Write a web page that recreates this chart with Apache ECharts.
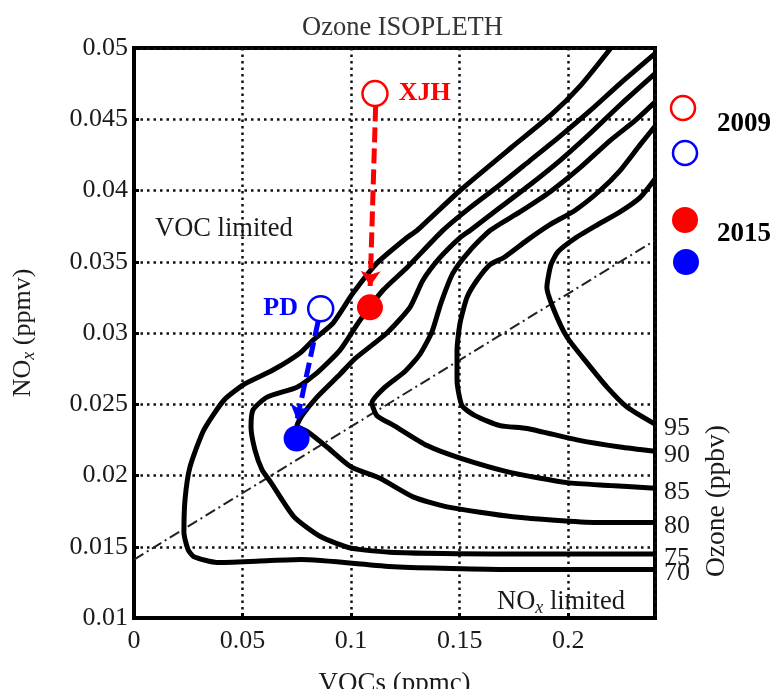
<!DOCTYPE html>
<html lang="en">
<head>
<meta charset="UTF-8">
<title>Ozone ISOPLETH</title>
<script src="https://cdn.jsdelivr.net/npm/echarts@6/dist/echarts.min.js"></script>
<style>
  html, body { margin: 0; padding: 0; background: #fff; }
  #main { width: 776px; height: 689px; }
</style>
</head>
<body>
<div id="main"></div>
<script>
// ozone levels (ppbv); every contour goes from its upper end round to the right border
var levels = [70, 75, 80, 85, 90, 95];

var c70 = [[0.2197,0.0500],[0.2059,0.0474],[0.1921,0.0453],[0.1737,0.0430],[0.1502,0.0400],[0.1304,0.0372],[0.1258,0.0367],
  [0.1119,0.0349],[0.1009,0.0328],[0.0917,0.0307],[0.0825,0.0295],[0.0765,0.0286],[0.0640,0.0274],[0.0507,0.0264],
  [0.0415,0.0253],[0.0322,0.0232],[0.0258,0.0206],[0.0235,0.0183],[0.0230,0.0160],[0.0249,0.0148],[0.0276,0.0143],
  [0.0382,0.0139],[0.0580,0.0140],[0.0769,0.0141],[0.1198,0.0136],[0.1732,0.0134],[0.2400,0.0134]];
var c75 = [[0.2400,0.0496],[0.2239,0.0475],[0.2101,0.0456],[0.1962,0.0438],[0.1824,0.0421],[0.1686,0.0404],[0.1548,0.0388],
  [0.1423,0.0372],[0.1258,0.0346],[0.1147,0.0330],[0.1041,0.0309],[0.0949,0.0288],[0.0843,0.0272],[0.0751,0.0262],
  [0.0613,0.0255],[0.0548,0.0246],[0.0539,0.0234],[0.0557,0.0218],[0.0590,0.0204],[0.0631,0.0195],[0.0737,0.0171],
  [0.0861,0.0157],[0.1000,0.0149],[0.1198,0.0146],[0.1732,0.0145],[0.2400,0.0145]];
var c80 = [[0.2400,0.0482],[0.2239,0.0460],[0.2101,0.0440],[0.1962,0.0421],[0.1824,0.0404],[0.1686,0.0388],[0.1548,0.0372],
  [0.1502,0.0367],[0.1410,0.0353],[0.1331,0.0337],[0.1271,0.0318],[0.1165,0.0300],[0.1018,0.0282],[0.0949,0.0271],
  [0.0843,0.0255],[0.0774,0.0242],[0.0751,0.0235],[0.0797,0.0231],[0.0889,0.0220],[0.1000,0.0206],[0.1133,0.0198],
  [0.1285,0.0185],[0.1442,0.0178],[0.1746,0.0171],[0.2133,0.0167],[0.2400,0.0167]];
var c85 = [[0.2400,0.0462],[0.2308,0.0449],[0.2193,0.0435],[0.2055,0.0416],[0.1916,0.0399],[0.1778,0.0385],[0.1640,0.0372],
  [0.1548,0.0358],[0.1469,0.0342],[0.1414,0.0321],[0.1373,0.0301],[0.1317,0.0285],[0.1248,0.0273],[0.1156,0.0262],
  [0.1096,0.0251],[0.1119,0.0242],[0.1198,0.0235],[0.1350,0.0221],[0.1506,0.0212],[0.1737,0.0202],[0.1995,0.0195],
  [0.2193,0.0193],[0.2400,0.0191]];
var c90 = [[0.2400,0.0445],[0.2331,0.0432],[0.2239,0.0414],[0.2147,0.0400],[0.2031,0.0386],[0.1916,0.0376],[0.1810,0.0365],
  [0.1704,0.0353],[0.1640,0.0348],[0.1580,0.0337],[0.1534,0.0325],[0.1502,0.0307],[0.1488,0.0288],[0.1488,0.0267],
  [0.1511,0.0249],[0.1571,0.0242],[0.1686,0.0235],[0.1810,0.0233],[0.2041,0.0225],[0.2239,0.0220],[0.2400,0.0217]];
var c95 = [[0.2400,0.0408],[0.2331,0.0395],[0.2239,0.0385],[0.2124,0.0375],[0.2027,0.0366],[0.1953,0.0357],[0.1921,0.0348],
  [0.1902,0.0332],[0.1935,0.0316],[0.1995,0.0297],[0.2087,0.0279],[0.2179,0.0262],[0.2271,0.0248],[0.2400,0.0236]];
var contours = [c70, c75, c80, c85, c90, c95];

// dash-dot ridge line
var ridge = [[0, 0.0141], [0.24, 0.0365]];

// sites
var siteNames = ['XJH', 'PD'];
var siteColors = ['#ff0000', '#0000ff'];
var site2009 = [[0.1110, 0.0468], [0.0860, 0.0317]];
var site2015 = [[0.1087, 0.0318], [0.0749, 0.0226]];
var arrowFrom = [[0.1113, 0.0459], [0.0848, 0.0308]];
var arrowTo = [[0.1088, 0.0333], [0.0751, 0.0239]];

var serif = '"Liberation Serif", "DejaVu Serif", serif';
var ink = '#1a1a1a';

var series = [];
contours.forEach(function (c, i) {
    series.push({
        type: 'line',
        data: c,
        smooth: 0.2,
        symbol: 'none',
        lineStyle: { color: '#000', width: 5 },
        endLabel: {
            show: true,
            formatter: String(levels[i]),
            distance: 9,
            offset: [0, 4],
            color: ink,
            fontFamily: serif,
            fontSize: 26
        },
        z: 3
    });
});
series.push({
    type: 'line',
    data: ridge,
    symbol: 'none',
    lineStyle: { color: '#222', width: 2, type: [11, 4, 2, 4] },
    z: 2
});
siteNames.forEach(function (nm, i) {
    series.push({
        type: 'lines',
        coordinateSystem: 'cartesian2d',
        symbol: ['none', 'arrow'],
        symbolSize: 15,
        lineStyle: { color: siteColors[i], width: 5, type: [15, 6], opacity: 1 },
        data: [{ coords: [arrowFrom[i], arrowTo[i]] }],
        z: 4
    });
    series.push({
        type: 'scatter',
        data: [site2009[i]],
        symbolSize: 25,
        itemStyle: { color: '#fff', borderColor: siteColors[i], borderWidth: 2.5, opacity: 1 },
        label: {
            show: true,
            formatter: nm,
            position: i === 0 ? 'right' : 'left',
            distance: i === 0 ? 10 : 9,
            color: siteColors[i],
            fontFamily: serif,
            fontWeight: 'bold',
            fontSize: 26
        },
        z: 5
    });
    series.push({
        type: 'scatter',
        data: [site2015[i]],
        symbolSize: 26,
        itemStyle: { color: siteColors[i], opacity: 1 },
        z: 5
    });
});

var chart = echarts.init(document.getElementById('main'));
chart.setOption({
    animation: false,
    backgroundColor: '#fff',
    title: {
        text: 'Ozone ISOPLETH',
        left: 297,
        top: 10,
        textStyle: { fontFamily: serif, fontSize: 26.5, fontWeight: 'normal', color: '#333' }
    },
    grid: {
        left: 134, right: 121, top: 48, bottom: 71,
        outerBoundsMode: 'none',
        containLabel: false,
        show: true, borderColor: '#000', borderWidth: 4
    },
    xAxis: {
        type: 'value',
        min: 0, max: 0.24, interval: 0.05,
        name: 'VOCs (ppmc)',
        nameLocation: 'middle',
        nameGap: 52,
        nameTextStyle: { fontFamily: serif, fontSize: 27, color: ink },
        axisLine: { show: true, lineStyle: { color: '#000', width: 4 } },
        axisTick: { show: true, inside: true, length: 5, lineStyle: { color: '#000', width: 3 } },
        axisLabel: { showMaxLabel: false, margin: 10, fontFamily: serif, fontSize: 26, color: ink },
        splitLine: { show: true, lineStyle: { color: '#111', width: 2.5, type: [2.5, 4] } }
    },
    yAxis: {
        type: 'value',
        min: 0.01, max: 0.05, interval: 0.005,
        name: 'NO{x|x} (ppmv)',
        nameLocation: 'middle',
        nameGap: 96,
        nameTextStyle: {
            fontFamily: serif, fontSize: 26, color: ink,
            rich: { x: { fontFamily: serif, fontSize: 18, fontStyle: 'italic', color: ink, padding: [12, 0, 0, 0] } }
        },
        axisLine: { show: true, lineStyle: { color: '#000', width: 4 } },
        axisTick: { show: true, inside: true, length: 5, lineStyle: { color: '#000', width: 3 } },
        axisLabel: { margin: 6, fontFamily: serif, fontSize: 26, color: ink },
        splitLine: { show: true, lineStyle: { color: '#111', width: 2.5, type: [2.5, 4] } }
    },
    graphic: [
        { type: 'text', left: 155, top: 216, z: 10,
          style: { text: 'VOC limited', font: '26.5px ' + serif, fill: ink } },
        { type: 'text', left: 497, top: 589, z: 10,
          style: {
              text: 'NO{x|x} limited', font: '26.5px ' + serif, fill: ink,
              rich: { x: { font: 'italic 18px ' + serif, fill: ink, padding: [12, 0, 0, 0] } }
          } },
        { type: 'text', x: 703, y: 577, rotation: Math.PI / 2, z: 10,
          style: { text: 'Ozone (ppbv)', font: '27.5px ' + serif, fill: ink } },
        { type: 'circle', shape: { cx: 683, cy: 108, r: 12 }, style: { fill: '#fff', stroke: '#ff0000', lineWidth: 2.5 } },
        { type: 'circle', shape: { cx: 685, cy: 153, r: 12 }, style: { fill: '#fff', stroke: '#0000ff', lineWidth: 2.5 } },
        { type: 'circle', shape: { cx: 685, cy: 220, r: 13 }, style: { fill: '#ff0000' } },
        { type: 'circle', shape: { cx: 686, cy: 262, r: 13 }, style: { fill: '#0000ff' } },
        { type: 'text', left: 717, top: 111, style: { text: '2009', font: 'bold 27px ' + serif, fill: '#000' } },
        { type: 'text', left: 717, top: 221, style: { text: '2015', font: 'bold 27px ' + serif, fill: '#000' } }
    ],
    series: series
});
</script>
</body>
</html>
